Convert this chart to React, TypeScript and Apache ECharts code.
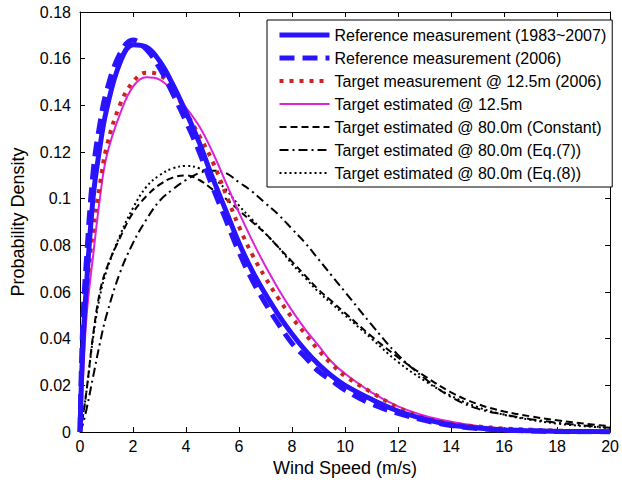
import React, { useEffect, useRef } from "react";
import * as echarts from "echarts";

const speeds = [0, 0.1, 0.25, 0.5, 0.75, 1, 1.5, 2, 2.5, 3, 3.5, 4, 4.5, 5, 5.5, 6, 6.5, 7, 7.5, 8, 8.5, 9, 9.5, 10, 11, 12, 13, 14, 15, 16, 17, 18, 19, 20];

const refAll = [0, 0.035, 0.064, 0.101, 0.122, 0.138, 0.158, 0.166, 0.165, 0.159, 0.149, 0.137, 0.124, 0.109, 0.095, 0.081, 0.069, 0.059, 0.050, 0.042, 0.035, 0.029, 0.024, 0.020, 0.014, 0.009, 0.0055, 0.003, 0.0017, 0.0009, 0.0005, 0.0003, 0.0002, 0.0001];
const ref2006 = [0, 0.045, 0.075, 0.112, 0.132, 0.146, 0.162, 0.168, 0.164, 0.156, 0.145, 0.133, 0.120, 0.105, 0.091, 0.077, 0.065, 0.055, 0.046, 0.038, 0.032, 0.026, 0.022, 0.018, 0.012, 0.008, 0.005, 0.0028, 0.0015, 0.0008, 0.0004, 0.0002, 0.0001, 0.0001];
const tgtMeas = [0, 0.035, 0.060, 0.087, 0.106, 0.122, 0.140, 0.150, 0.154, 0.153, 0.147, 0.137, 0.127, 0.116, 0.102, 0.088, 0.076, 0.066, 0.057, 0.049, 0.042, 0.035, 0.029, 0.024, 0.017, 0.0105, 0.006, 0.0036, 0.0024, 0.0015, 0.001, 0.0006, 0.0004, 0.0003];
const tgtEst = [0, 0.020, 0.050, 0.076, 0.100, 0.118, 0.136, 0.148, 0.152, 0.151, 0.146, 0.139, 0.131, 0.120, 0.107, 0.094, 0.082, 0.071, 0.061, 0.052, 0.044, 0.037, 0.030, 0.025, 0.017, 0.011, 0.007, 0.0044, 0.0026, 0.0015, 0.0008, 0.0005, 0.0003, 0.0002];
const est80Const = [0, 0.006, 0.018, 0.042, 0.060, 0.070, 0.083, 0.094, 0.101, 0.106, 0.109, 0.110, 0.108, 0.104, 0.100, 0.095, 0.090, 0.085, 0.079, 0.073, 0.067, 0.061, 0.056, 0.051, 0.041, 0.032, 0.024, 0.017, 0.012, 0.0088, 0.0067, 0.005, 0.0036, 0.0025];
const est80Eq7 = [0, 0.003, 0.010, 0.024, 0.038, 0.050, 0.068, 0.081, 0.091, 0.099, 0.104, 0.108, 0.111, 0.112, 0.111, 0.107, 0.103, 0.098, 0.093, 0.087, 0.081, 0.074, 0.067, 0.060, 0.046, 0.033, 0.023, 0.015, 0.010, 0.0075, 0.0055, 0.004, 0.0028, 0.0018];
const est80Eq8 = [0, 0.006, 0.018, 0.041, 0.058, 0.069, 0.084, 0.096, 0.105, 0.110, 0.113, 0.114, 0.113, 0.109, 0.104, 0.097, 0.091, 0.085, 0.079, 0.072, 0.066, 0.060, 0.055, 0.050, 0.040, 0.030, 0.022, 0.0155, 0.0107, 0.0074, 0.0052, 0.0036, 0.0025, 0.0017];

const names = [
  "Reference measurement (1983~2007)",
  "Reference measurement (2006)",
  "Target measurement @ 12.5m (2006)",
  "Target estimated @ 12.5m",
  "Target estimated @ 80.0m (Constant)",
  "Target estimated @ 80.0m (Eq.(7))",
  "Target estimated @ 80.0m (Eq.(8))",
];
const values = [refAll, ref2006, tgtMeas, tgtEst, est80Const, est80Eq7, est80Eq8];
const colors = ["#2a14ff", "#2a14ff", "#cc2222", "#dd22dd", "#000000", "#000000", "#000000"];
const widths = [5, 5, 4, 2, 2, 2, 2];
const dashes: any[] = ["solid", [15, 8], [4, 6], "solid", [7, 4], [9, 4, 2, 4], [2, 3]];

const FONT = "Liberation Sans, Arial, sans-serif";

export default function App() {
  const ref = useRef<HTMLDivElement>(null);
  useEffect(() => {
    if (!ref.current) return;
    const chart = echarts.init(ref.current, null, { renderer: "svg" });
    const axisCommon = {
      axisLine: { show: true, onZero: false, lineStyle: { color: "#000", width: 1 } },
      axisTick: { show: true, inside: true, length: 5, lineStyle: { color: "#000" } },
      splitLine: { show: false },
    };
    chart.setOption({
      animation: false,
      backgroundColor: "#fff",
      textStyle: { fontFamily: FONT },
      grid: { left: 80, right: 10, top: 12, bottom: 51 },
      legend: {
        orient: "vertical",
        left: 267,
        top: 20,
        itemWidth: 50,
        itemHeight: 16,
        itemGap: 7,
        padding: [7, 6, 6, 10],
        borderColor: "#000",
        borderWidth: 1,
        backgroundColor: "#fff",
        itemStyle: { opacity: 0 },
        textStyle: { fontFamily: FONT, fontSize: 16, color: "#000" },
        data: names.map((n, i) => ({
          name: n,
          lineStyle: { color: colors[i], width: widths[i], type: dashes[i] },
        })),
      },
      xAxis: [
        {
          type: "value",
          min: 0,
          max: 20,
          interval: 2,
          name: "Wind Speed (m/s)",
          nameLocation: "middle",
          nameGap: 26,
          nameTextStyle: { fontFamily: FONT, fontSize: 18, color: "#000" },
          axisLabel: { fontFamily: FONT, fontSize: 16, color: "#000", margin: 6 },
          ...axisCommon,
        },
        {
          type: "value",
          min: 0,
          max: 20,
          interval: 2,
          position: "top",
          axisLabel: { show: false },
          ...axisCommon,
        },
      ],
      yAxis: [
        {
          type: "value",
          min: 0,
          max: 0.18,
          interval: 0.02,
          name: "Probability Density",
          nameLocation: "middle",
          nameGap: 53,
          nameTextStyle: { fontFamily: FONT, fontSize: 18, color: "#000" },
          axisLabel: { fontFamily: FONT, fontSize: 16, color: "#000", margin: 9 },
          ...axisCommon,
        },
        {
          type: "value",
          min: 0,
          max: 0.18,
          interval: 0.02,
          position: "right",
          axisLabel: { show: false },
          ...axisCommon,
        },
      ],
      series: names.map((n, i) => ({
        name: n,
        type: "line",
        xAxisIndex: 0,
        yAxisIndex: 0,
        data: speeds.map((s, j) => [s, values[i][j]]),
        showSymbol: false,
        symbol: "none",
        smooth: 0.4,
        color: colors[i],
        lineStyle: { color: colors[i], width: widths[i], type: dashes[i] },
        z: 10 - i,
      })),
    });
    return () => chart.dispose();
  }, []);
  return <div ref={ref} style={{ width: 622, height: 483, position: "absolute", left: 0, top: 0 }} />;
}
